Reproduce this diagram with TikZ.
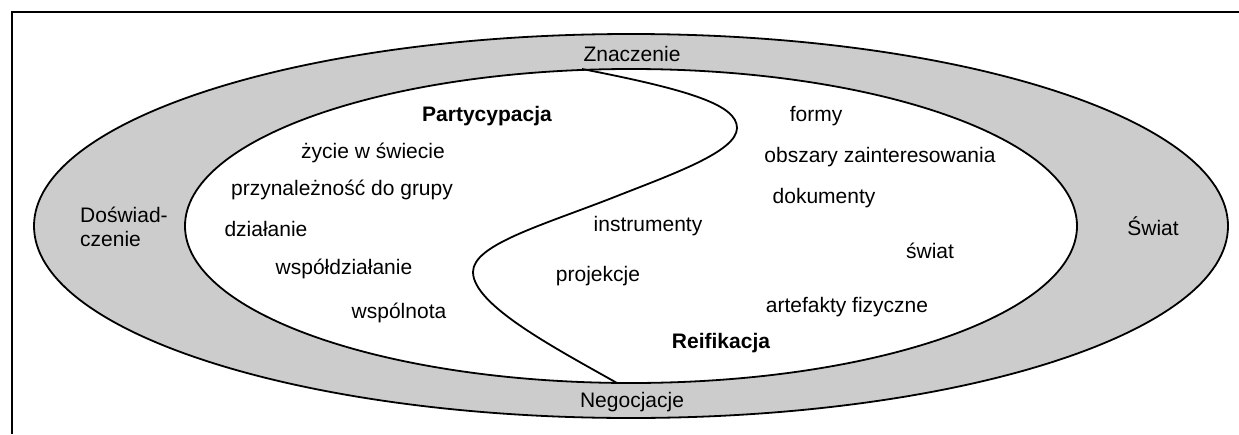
\documentclass[tikz,border=0pt]{standalone}
\usepackage{fontspec}
\setmainfont{Liberation Sans}
\definecolor{bandgray}{RGB}{204,204,204}
\begin{document}
\begin{tikzpicture}[x=1pt,y=-1pt,
  lbl/.style={font=\fontsize{21}{24}\selectfont, inner sep=0pt, text height=15pt, text depth=4.5pt},
  bld/.style={font=\fontsize{21}{24}\selectfont\bfseries, inner sep=0pt, text height=15pt, text depth=4.5pt},
  contour/.style={line width=1.8pt}]
\useasboundingbox (0,0) rectangle (1239,434);
% frame (only left and top edges visible)
\draw[line width=2pt] (12,434) -- (12,12) -- (1239,12);
% outer band
\draw[contour, fill=bandgray] (631,226) ellipse [x radius=597, y radius=192];
% inner field
\draw[contour, fill=white] (631,226) ellipse [x radius=446, y radius=157];
% S-curve
\coordinate (stop) at (582,69);
\coordinate (sbot) at (617,383);
\draw[contour] (stop) .. controls (690,90) and (737,105) .. (737,128)
  .. controls (737,152) and (670,175) .. (612,198)
  .. controls (540,226) and (473,245) .. (473,272)
  .. controls (473,305) and (555,348) .. (sbot);
% band labels
\node[lbl] (znacz) at (632,56) {Znaczenie};
\node[lbl] (negoc) at (632,402) {Negocjacje};
\node[font=\fontsize{21}{24}\selectfont, inner sep=0pt, anchor=base west] (dosw1) at (80,222) {Doświad-};
\node[font=\fontsize{21}{24}\selectfont, inner sep=0pt, anchor=base west] (dosw2) at (80,246) {czenie};
\node[lbl] (swiatO) at (1153,230) {Świat};
% participation side
\node[bld] (part) at (487,116) {Partycypacja};
\node[lbl] (zycie) at (373,153) {życie w świecie};
\node[lbl] (przyn) at (342,190) {przynależność do grupy};
\node[lbl] (dzial) at (266,231) {działanie};
\node[lbl] (wspd) at (344,269) {współdziałanie};
\node[lbl] (wspn) at (399,313) {wspólnota};
% reification side
\node[lbl] (instr) at (648,226) {instrumenty};
\node[lbl] (proj) at (598,276) {projekcje};
\node[lbl] (formy) at (816,116) {formy};
\node[lbl] (obsz) at (880,157) {obszary zainteresowania};
\node[lbl] (dok) at (824,198) {dokumenty};
\node[lbl] (swiat) at (930,253) {świat};
\node[lbl] (artef) at (847,307) {artefakty fizyczne};
\node[bld] (reif) at (721,343) {Reifikacja};
\end{tikzpicture}
\end{document}
